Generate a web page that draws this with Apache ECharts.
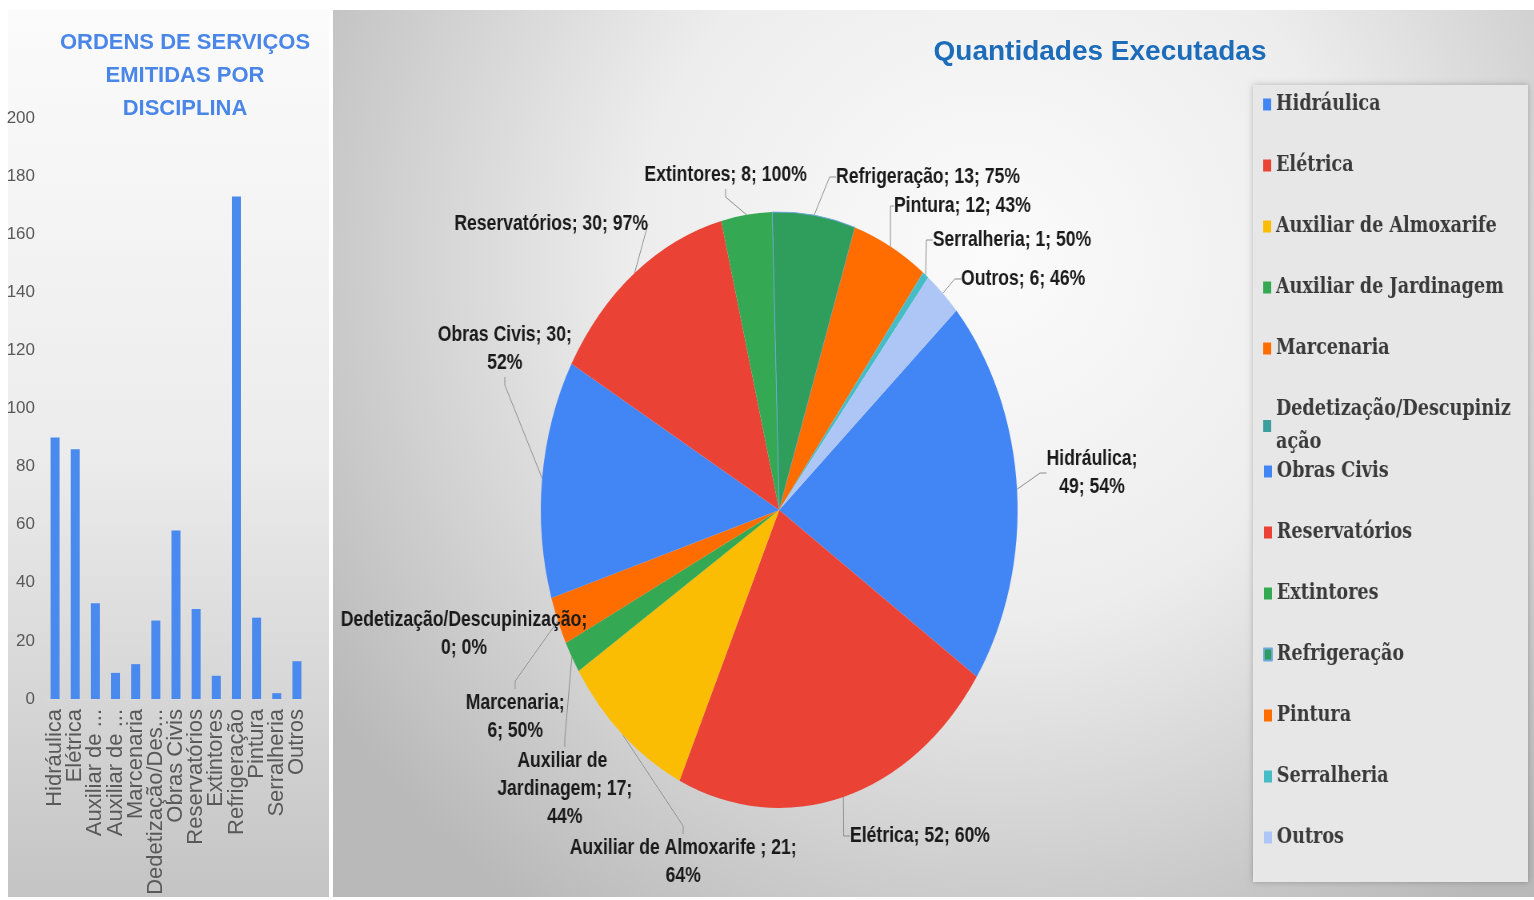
<!DOCTYPE html>
<html>
<head>
<meta charset="utf-8">
<title>Ordens de serviços e quantidades executadas</title>
<script src="https://cdn.jsdelivr.net/npm/echarts@6/dist/echarts.min.js"></script>
<style>
  html, body { margin: 0; padding: 0; background: #fff; overflow: hidden; }
  #base { position: absolute; left: 0; top: 0; width: 1534px; height: 900px; }
  /* a pizza da imagem original e achatada na horizontal (elipse), por isso o scaleX */
  #pizza { position: absolute; left: 0; top: 0; width: 1918px; height: 900px; transform: scaleX(0.8); transform-origin: 0 0; }
</style>
</head>
<body>
<div id="base"></div>
<div id="pizza"></div>
<script>
// categorias, mesma ordem nos dois graficos
var disciplinas = ['Hidráulica', 'Elétrica', 'Auxiliar de Almoxarife ', 'Auxiliar de Jardinagem', 'Marcenaria',
  'Dedetização/Descupinização', 'Obras Civis', 'Reservatórios', 'Extintores', 'Refrigeração', 'Pintura', 'Serralheria', 'Outros']
// rotulos do eixo x das barras (cortados como na imagem)
var rotulosEixo = ['Hidráulica', 'Elétrica', 'Auxiliar de ...', 'Auxiliar de ...', 'Marcenaria', 'Dedetização/Des...',
  'Obras Civis', 'Reservatórios', 'Extintores', 'Refrigeração', 'Pintura', 'Serralheria', 'Outros']
// ordens de servico emitidas (barras)
var ordensEmitidas = [90, 86, 33, 9, 12, 27, 58, 31, 8, 173, 28, 2, 13]
// quantidades executadas: tamanho das fatias como estao desenhadas
var qtdExecutada = [49, 52, 21, 4, 6, 0, 30, 30, 8, 13, 12, 1, 6]
// numero escrito no rotulo (Aux. de Jardinagem aparece 17 no texto)
var qtdRotulo = [49, 52, 21, 17, 6, 0, 30, 30, 8, 13, 12, 1, 6]
var pctExecutado = [54, 60, 64, 44, 50, 0, 52, 97, 100, 75, 43, 50, 46]

var cores = ['#4285f4', '#ea4335', '#fbbc04', '#34a853', '#ff6d01', '#3d9e9e', '#4285f4',
  '#ea4335', '#34a853', '#2f9e5c', '#ff6d01', '#46bdc6', '#aec6f6']
// onde o excel quebrou a linha: 'n' depois do nome, 'q' depois da quantidade
var quebraRotulo = ['n', '', 'q', 'q', 'n', 'n', 'q', '', '', '', '', '', '']
// onde o excel deixou cada rotulo (centro do texto, px da div da pizza)
var posRotulo = [[1365, 473], [1150, 836], [854, 862], [706, 789], [644, 717], [580, 634], [631, 349],
  [689, 224], [907, 175], [1160, 177], [1203, 206], [1265, 240], [1279, 279]]

var base = echarts.init(document.getElementById('base'))
base.setOption({
  animation: false,
  graphic: [
    {
      type: 'rect', z: -10,
      shape: { x: 8, y: 10, width: 321, height: 887 },
      style: { fill: new echarts.graphic.LinearGradient(0, 0, 0, 1, [
        { offset: 0, color: '#fbfbfb' }, { offset: 0.5, color: '#ececec' }, { offset: 1, color: '#c4c4c4' }]) }
    },
    {
      type: 'rect', z: -10,
      shape: { x: 333, y: 10, width: 1201, height: 887 },
      style: { fill: new echarts.graphic.RadialGradient(0.55, 0.28, 0.9, [
        { offset: 0, color: '#fbfbfb' }, { offset: 0.45, color: '#ededed' }, { offset: 1, color: '#b9b9b9' }]) }
    },
    {
      type: 'rect', z: -9,
      shape: { x: 1253, y: 85, width: 275, height: 797 },
      style: { fill: '#e7e7e7', shadowBlur: 6, shadowColor: 'rgba(0,0,0,0.25)' }
    }
  ],
  title: [
    {
      text: 'ORDENS DE SERVIÇOS\nEMITIDAS POR\nDISCIPLINA',
      left: 180, top: 21, textAlign: 'center',
      textStyle: { fontFamily: 'Liberation Sans', fontSize: 22, fontWeight: 'bold', color: '#4a86e8', lineHeight: 33 }
    },
    {
      text: 'Quantidades Executadas',
      left: 1095, top: 33, textAlign: 'center',
      textStyle: { fontFamily: 'Liberation Sans', fontSize: 28, fontWeight: 'bold', color: '#1c6cba' }
    }
  ],
  grid: { left: 45, top: 118, width: 262, height: 581, containLabel: false },
  xAxis: {
    type: 'category',
    data: disciplinas,
    axisTick: { show: false },
    axisLine: { lineStyle: { color: '#d9d9d9' } },
    axisLabel: {
      interval: 0, rotate: 90, margin: 10,
      fontFamily: 'Liberation Sans', fontSize: 22, color: '#595959',
      formatter: function(value, index) {
        return rotulosEixo[index]
      }
    }
  },
  yAxis: {
    type: 'value', min: 0, max: 200, interval: 20,
    splitLine: { show: false },
    axisLine: { show: false },
    axisLabel: { fontFamily: 'Liberation Sans', fontSize: 17, color: '#595959', margin: 10 }
  },
  series: [{
    type: 'bar',
    data: ordensEmitidas,
    barWidth: 9,
    itemStyle: { color: '#4a89ee' }
  }]
})

var textoLegenda = {
  fontFamily: 'DejaVu Serif', fontWeight: 'bold', fontSize: 22, color: '#3a3a3a',
  lineHeight: 33, width: 312, overflow: 'breakAll', padding: [0, 0, 0, 1]
}

var pizza = echarts.init(document.getElementById('pizza'))
pizza.setOption({
  animation: false,
  color: cores,
  // duas legendas: o nome quebrado em duas linhas nao empurra os itens de baixo
  legend: [
    {
      orient: 'vertical', left: 1574, top: 83,
      icon: 'rect', itemWidth: 10, itemHeight: 12, itemGap: 28,
      data: disciplinas.slice(0, 6),
      textStyle: textoLegenda
    },
    {
      orient: 'vertical', left: 1574, top: 450,
      icon: 'rect', itemWidth: 10, itemHeight: 12, itemGap: 28,
      data: disciplinas.slice(6),
      textStyle: textoLegenda
    }
  ],
  series: [{
    type: 'pie',
    center: [974, 510],
    radius: 298,
    startAngle: 42,
    clockwise: true,
    emphasis: { disabled: true },
    data: disciplinas.map(function(nome, i) {
      var item = { name: nome, value: qtdExecutada[i] }
      // "Auxiliar de / Jardinagem" tambem quebra dentro do nome
      if (nome === 'Auxiliar de Jardinagem') item.label = { width: 185, overflow: 'break' }
      if (nome === 'Refrigeração') item.itemStyle = { borderColor: '#6fa8dc', borderWidth: 1 }
      return item
    }),
    label: {
      fontFamily: 'Liberation Sans', fontWeight: 'bold', fontSize: 22, color: '#1a1a1a', lineHeight: 28,
      formatter: function(p) {
        var i = p.dataIndex
        var s1 = quebraRotulo[i] === 'n' ? ';\n' : '; '
        var s2 = quebraRotulo[i] === 'q' ? ';\n' : '; '
        return p.name + s1 + qtdRotulo[i] + s2 + pctExecutado[i] + '%'
      }
    },
    labelLine: { length: 14, length2: 8, lineStyle: { color: '#8c8c8c', width: 1 } },
    labelLayout: function(p) {
      var pos = posRotulo[p.dataIndex]
      return { x: pos[0], y: pos[1], align: 'center', verticalAlign: 'middle' }
    }
  }]
})
</script>
</body>
</html>
